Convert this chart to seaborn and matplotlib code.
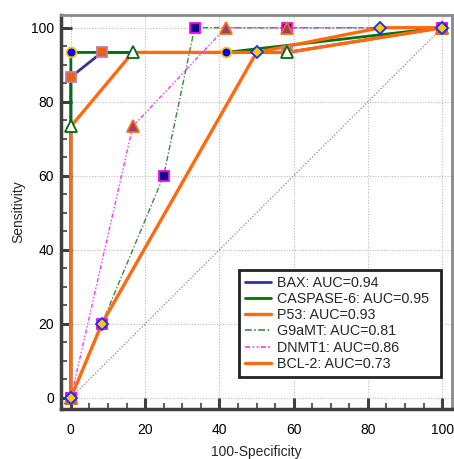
import numpy as np
import pandas as pd
import matplotlib
matplotlib.use("Agg")
import matplotlib.pyplot as plt
import seaborn as sns
from matplotlib.ticker import MultipleLocator
from matplotlib.lines import Line2D

sns.set_theme(style="white")
plt.rcParams["font.family"] = ["Liberation Sans", "DejaVu Sans"]
plt.rcParams["axes.grid"] = False

# ROC coordinates (100-Specificity, Sensitivity) for each marker
bax_x = [0, 0, 8.33, 58.33, 100]
bax_y = [0, 86.67, 93.33, 93.33, 100]

casp_x = [0, 0, 41.67, 100]
casp_y = [0, 93.33, 93.33, 100]

p53_x = [0, 0, 16.67, 58.33, 100]
p53_y = [0, 73.33, 93.33, 93.33, 100]

g9_x = [0, 8.33, 25, 33.33, 58.33, 100]
g9_y = [0, 20, 60, 100, 100, 100]

dnmt_x = [0, 16.67, 41.67, 58.33, 100]
dnmt_y = [0, 73.33, 100, 100, 100]

bcl_x = [0, 8.33, 50, 83.33, 100]
bcl_y = [0, 20, 93.33, 100, 100]

labels = ["BAX: AUC=0.94", "CASPASE-6: AUC=0.95", "P53: AUC=0.93",
          "G9aMT: AUC=0.81", "DNMT1: AUC=0.86", "BCL-2: AUC=0.73"]

grid_ticks = [0, 20, 40, 60, 80, 100]

series = [
    dict(x=bax_x, y=bax_y, color="#333399", lw=2.0, ls="-",
         marker="s", ms=7, mfc="#e8620f", mec="#c47aa6"),
    dict(x=casp_x, y=casp_y, color="#00720f", lw=2.0, ls="-",
         marker="o", ms=7, mfc="#0000ff", mec="#ffc000"),
    dict(x=p53_x, y=p53_y, color="#ff6a10", lw=2.4, ls="-",
         marker="^", ms=8, mfc="#ffffff", mec="#006a10"),
    dict(x=g9_x, y=g9_y, color="#3a8a3a", lw=1.0, ls=(0, (4, 1.5, 1, 1.5)),
         marker="s", ms=7, mfc="#0a0a80", mec="#ff00ff"),
    dict(x=dnmt_x, y=dnmt_y, color="#ff33ff", lw=1.0, ls=(0, (3, 1.5, 1, 1.5, 1, 1.5)),
         marker="^", ms=8, mfc="#9a4070", mec="#ff6a10"),
    dict(x=bcl_x, y=bcl_y, color="#ff6a10", lw=2.4, ls="-",
         marker="D", ms=6.5, mfc="#ffc800", mec="#1030ff"),
]

fig = plt.figure(figsize=(4.54, 4.59), dpi=100)
ax = fig.add_axes([0.134, 0.109, 0.862, 0.858])

# dotted grid at the labelled ticks only
for v in grid_ticks:
    ax.axvline(v, color="#b8b8b8", lw=0.8, ls=(0, (1, 1.5)), zorder=0.5)
    ax.axhline(v, color="#b8b8b8", lw=0.8, ls=(0, (1, 1.5)), zorder=0.5)

# reference diagonal
ax.plot([0, 100], [0, 100], color="#b07878", lw=0.9, ls=(0, (1, 1.5)), zorder=1)

# curves
for i, s in enumerate(series):
    df = pd.DataFrame({"x": s["x"], "y": s["y"]})
    sns.lineplot(data=df, x="x", y="y", ax=ax, estimator=None, sort=False,
                 color=s["color"], linewidth=s["lw"], linestyle=s["ls"],
                 zorder=3 + i * 0.1)

# markers on top of all curves
for i, s in enumerate(series):
    df = pd.DataFrame({"x": s["x"], "y": s["y"]})
    sns.lineplot(data=df, x="x", y="y", ax=ax, estimator=None, sort=False,
                 linestyle="none", marker=s["marker"], markersize=s["ms"],
                 markerfacecolor=s["mfc"], markeredgecolor=s["mec"],
                 markeredgewidth=1.3, color=s["color"], zorder=5 + i * 0.1)

ax.set_xlim(-2.7, 102.7)
ax.set_ylim(-3.0, 103.4)
ax.xaxis.set_major_locator(MultipleLocator(20))
ax.yaxis.set_major_locator(MultipleLocator(20))
ax.xaxis.set_minor_locator(MultipleLocator(5))
ax.yaxis.set_minor_locator(MultipleLocator(5))

ax.tick_params(which="major", direction="in", length=8, width=2.2,
               color="#404040", labelsize=10, labelcolor="black")
ax.tick_params(which="minor", direction="in", length=4.5, width=1.2,
               color="#404040")
ax.tick_params(axis="x", which="major", pad=10)
ax.tick_params(axis="y", which="major", pad=5)
ax.tick_params(axis="both", which="both", top=False, right=False, bottom=True, left=True)
ax.grid(False, which="both")

for side in ["left", "bottom"]:
    ax.spines[side].set_color("#404040")
    ax.spines[side].set_linewidth(2.5)
for side in ["top", "right"]:
    ax.spines[side].set_color("#8a8a8a")
    ax.spines[side].set_linewidth(2.0)

ax.set_xlabel("100-Specificity", fontsize=10, labelpad=6)
ax.set_ylabel("Sensitivity", fontsize=10, labelpad=4)

handles = [Line2D([0], [0], color=s["color"], lw=s["lw"] if s["lw"] > 1.5 else 1.2,
                  ls=s["ls"]) for s in series]
leg = ax.legend(handles, labels, loc="lower left",
                bbox_to_anchor=(0.455, 0.081, 0.517, 0.27), mode="expand",
                fontsize=10.3, frameon=True, fancybox=False, framealpha=1,
                handlelength=1.8, handletextpad=0.45, labelspacing=0.16,
                borderpad=0.42, borderaxespad=0)
leg.get_frame().set_edgecolor("#222222")
leg.get_frame().set_linewidth(2.0)
leg.set_zorder(10)

fig.savefig("out.png", dpi=100)
